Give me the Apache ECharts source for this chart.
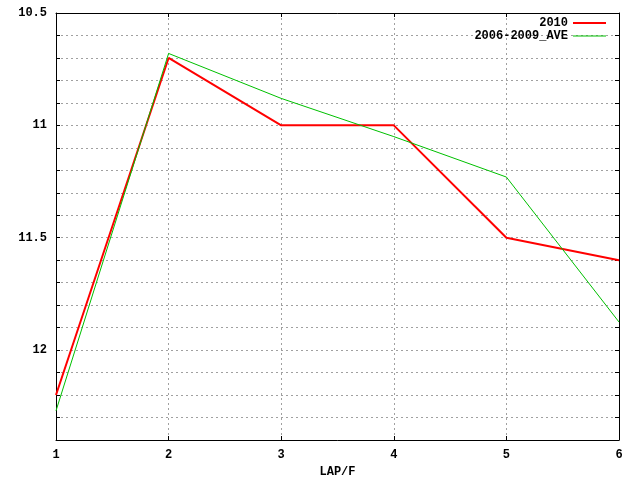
<!DOCTYPE html>
<html>
<head>
<meta charset="utf-8">
<script src="https://cdn.jsdelivr.net/npm/echarts@6/dist/echarts.min.js"></script>
<style>html,body{margin:0;padding:0;background:#fff}#c{width:640px;height:480px}</style>
</head>
<body>
<div id="c"></div>
<script>
var laps = [1, 2, 3, 4, 5, 6];
var series2010 = [12.2, 10.7, 11.0, 11.0, 11.5, 11.6];
var seriesAve = [12.27, 10.68, 10.88, 11.05, 11.23, 11.875];
var yLabelValues = [10.5, 11, 11.5, 12];
var xTitle = 'LAP/F';
var names = ['2010', '2006-2009_AVE'];

var FONT = 'Liberation Mono';
function pairs(xs, ys) { return xs.map(function (x, i) { return [x, ys[i]]; }); }
var grid = '#a0a0a0';
var tickCommon = { show: true, inside: true, length: 4, lineStyle: { color: '#000' } };
var chart = echarts.init(document.getElementById('c'), null, { renderer: 'canvas' });
chart.setOption({
  backgroundColor: '#fff',
  animation: false,
  grid: { left: 56, right: 21, top: 13, bottom: 40, containLabel: false, outerBoundsMode: 'none' },
  legend: [
    { data: [names[0]], right: 34, top: 17, icon: 'rect', itemWidth: 33, itemHeight: 2, itemGap: 0,
      align: 'right', padding: 0, textStyle: { fontFamily: FONT, fontWeight: 'bold', fontSize: 12, color: '#000' } },
    { data: [names[1]], right: 34, top: 30, icon: 'rect', itemWidth: 33, itemHeight: 1, itemGap: 0,
      align: 'right', padding: 0, textStyle: { fontFamily: FONT, fontWeight: 'bold', fontSize: 12, color: '#000' } }
  ],
  xAxis: [
    { type: 'value', min: 1, max: 6, interval: 1, position: 'bottom',
      name: xTitle, nameLocation: 'middle', nameGap: 26,
      nameTextStyle: { fontFamily: FONT, fontWeight: 'bold', fontSize: 12, color: '#000' },
      axisLine: { show: true, lineStyle: { color: '#000', width: 1 } },
      axisTick: tickCommon,
      axisLabel: { fontFamily: FONT, fontWeight: 'bold', fontSize: 12, color: '#000', margin: 9 },
      splitLine: { show: true, lineStyle: { color: grid, type: [2, 3], width: 1 } } },
    { type: 'value', min: 1, max: 6, interval: 1, position: 'top',
      axisLine: { show: true, lineStyle: { color: '#000', width: 1 } },
      axisTick: tickCommon, axisLabel: { show: false }, splitLine: { show: false } }
  ],
  yAxis: [
    { type: 'value', inverse: true, min: 10.5, max: 12.4, interval: 0.1, position: 'left',
      axisLine: { show: true, lineStyle: { color: '#000', width: 1 } },
      axisTick: tickCommon,
      axisLabel: { fontFamily: FONT, fontWeight: 'bold', fontSize: 12, color: '#000', margin: 9,
        formatter: function (v) {
          for (var i = 0; i < yLabelValues.length; i++) {
            if (Math.abs(v - yLabelValues[i]) < 1e-6) return String(yLabelValues[i]);
          }
          return '';
        } },
      splitLine: { show: true, lineStyle: { color: grid, type: [2, 3], width: 1 } } },
    { type: 'value', inverse: true, min: 10.5, max: 12.4, interval: 0.1, position: 'right',
      axisLine: { show: true, lineStyle: { color: '#000', width: 1 } },
      axisTick: tickCommon, axisLabel: { show: false }, splitLine: { show: false } }
  ],
  series: [
    { name: names[0], type: 'line', data: pairs(laps, series2010), showSymbol: false, symbol: 'none',
      color: '#ff0000', lineStyle: { color: '#ff0000', width: 2 }, xAxisIndex: 0, yAxisIndex: 0 },
    { name: names[1], type: 'line', data: pairs(laps, seriesAve), showSymbol: false, symbol: 'none',
      color: '#00c000', lineStyle: { color: '#00c000', width: 1 }, xAxisIndex: 0, yAxisIndex: 0 }
  ]
});
</script>
</body>
</html>
